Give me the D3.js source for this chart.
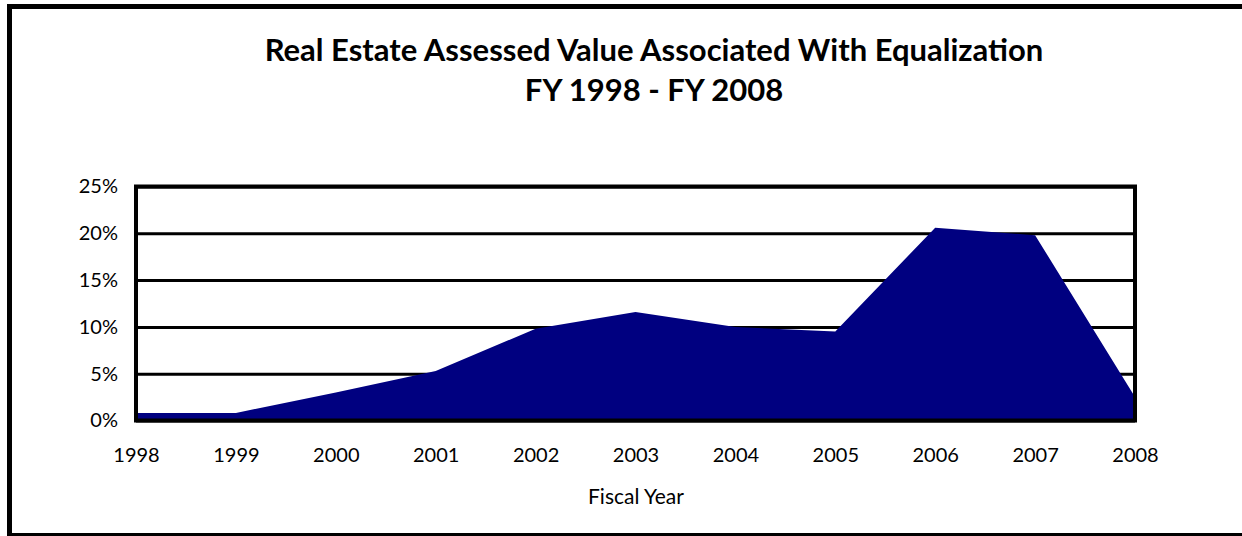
<!DOCTYPE html>
<html lang="en">
<head>
  <meta charset="UTF-8">
  <title>Real Estate Assessed Value Associated With Equalization</title>
  <style>
    html, body { margin: 0; padding: 0; background: #fff; }
    svg { display: block; }
    text { font-family: Lato, "Open Sans", sans-serif; fill: #000; }
  </style>
</head>
<body>
  <svg id="mainsvg" width="1242" height="536"></svg>
  <script src="https://cdn.jsdelivr.net/npm/d3@7/dist/d3.min.js"></script>
  <script>
    // data
    const years = [1998, 1999, 2000, 2001, 2002, 2003, 2004, 2005, 2006, 2007, 2008]
    const values = [0.8, 0.8, 3.0, 5.3, 9.8, 11.6, 10.0, 9.5, 20.6, 19.8, 2.5]
    const yTicks = [0, 5, 10, 15, 20, 25]
    const titleLines = ['Real Estate Assessed Value Associated With Equalization', 'FY 1998 - FY 2008']

    const svg = d3.select('#mainsvg')
    const width = +svg.attr('width')
    const height = +svg.attr('height')
    const margin = { top: 186.5, right: 107, bottom: 115.5, left: 136 }
    const innerWidth = width - margin.left - margin.right
    const innerHeight = height - margin.top - margin.bottom
    const plotBottom = height - margin.bottom

    // outer frame: top, left and bottom edges (right edge is off the picture)
    const frame = svg.append('g').attr('stroke', '#000').attr('fill', 'none')
    frame.append('line').attr('x1', 7).attr('x2', width).attr('y1', 6.5).attr('y2', 6.5).attr('stroke-width', 5)
    frame.append('line').attr('x1', 9.5).attr('x2', 9.5).attr('y1', 4).attr('y2', height).attr('stroke-width', 5)
    frame.append('line').attr('x1', 7).attr('x2', width).attr('y1', 534.5).attr('y2', 534.5).attr('stroke-width', 3)

    // title
    svg.append('g').selectAll('text')
      .data(titleLines)
      .join('text')
      .attr('x', 654)
      .attr('y', (d, i) => 61 + i * 40)
      .attr('text-anchor', 'middle')
      .attr('font-size', 31)
      .attr('font-weight', 'bold')
      .text(d => d)

    // scales in page pixels
    const xScale = d3.scaleLinear()
      .domain([d3.min(years), d3.max(years)])
      .range([margin.left, margin.left + innerWidth])
    const yScale = d3.scaleLinear()
      .domain([0, 25])
      .range([plotBottom, margin.top])

    // gridlines (under the area)
    const grid = svg.append('g')
      .attr('transform', `translate(${margin.left}, 0)`)
      .call(d3.axisLeft(yScale).tickValues(yTicks).tickSize(-innerWidth).tickFormat(''))
    grid.select('.domain').remove()
    grid.selectAll('line').attr('stroke', '#000').attr('stroke-width', 3)

    // area
    const area = d3.area()
      .x((d, i) => xScale(years[i]))
      .y0(yScale(0))
      .y1(d => yScale(d))
    svg.append('path')
      .datum(values)
      .attr('d', area)
      .attr('fill', '#000080')

    // plot frame
    svg.append('rect')
      .attr('x', margin.left)
      .attr('y', margin.top)
      .attr('width', innerWidth)
      .attr('height', innerHeight)
      .attr('fill', 'none')
      .attr('stroke', '#000')
      .attr('stroke-width', 4)

    // y labels
    const yAxis = svg.append('g')
      .attr('transform', `translate(${margin.left}, 0)`)
      .call(d3.axisLeft(yScale).tickValues(yTicks).tickSize(0).tickPadding(18).tickFormat(d => d + '%'))
    yAxis.select('.domain').remove()
    yAxis.selectAll('text').attr('font-size', 20).attr('font-family', 'Lato, sans-serif')

    // x labels
    const xAxis = svg.append('g')
      .attr('transform', `translate(0, ${plotBottom})`)
      .call(d3.axisBottom(xScale).tickValues(years).tickSize(0).tickPadding(27).tickFormat(d3.format('d')))
    xAxis.select('.domain').remove()
    xAxis.selectAll('text').attr('font-size', 20).attr('font-family', 'Lato, sans-serif')

    // x title
    svg.append('text')
      .attr('x', margin.left + 500)
      .attr('y', plotBottom + 83)
      .attr('text-anchor', 'middle')
      .attr('font-size', 21)
      .text('Fiscal Year')
  </script>
</body>
</html>
